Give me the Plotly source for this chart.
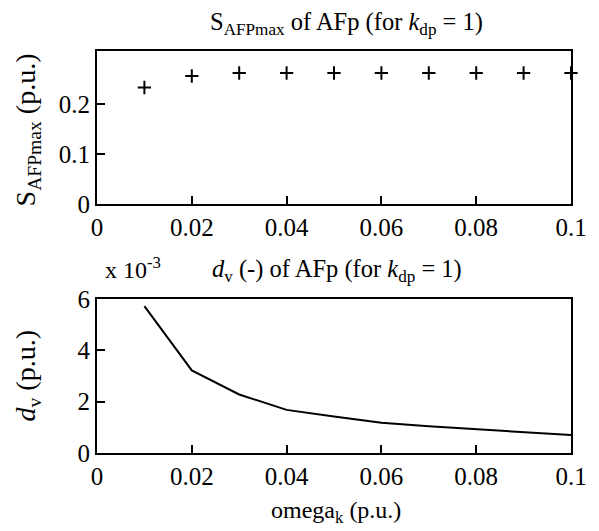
import plotly.graph_objects as go

omega_k = [0.01, 0.02, 0.03, 0.04, 0.05, 0.06, 0.07, 0.08, 0.09, 0.10]
s_afpmax = [0.233, 0.256, 0.262, 0.262, 0.262, 0.262, 0.262, 0.262, 0.262, 0.262]
d_v_e3 = [5.72, 3.22, 2.28, 1.68, 1.42, 1.18, 1.04, 0.92, 0.81, 0.70]  # in units of 1e-3

x_ticks = [0, 0.02, 0.04, 0.06, 0.08, 0.1]
x_ticktext = ["0", "0.02", "0.04", "0.06", "0.08", "0.1"]
top_yticks = [0, 0.1, 0.2]
bot_yticks = [0, 2, 4, 6]

FONT = "Liberation Serif"
fs_tick = 25
fs_title = 24.5
fs_ylab = 28
fs_xlab = 24

W, H = 599, 531
ml, mr, mt, mb = 97, 25, 51, 78
plot_h = H - mt - mb
top_y0 = (453 - 204) / plot_h
bot_y1 = (453 - 299) / plot_h

fig = go.Figure()
fig.add_trace(go.Scatter(
    x=omega_k, y=s_afpmax, mode="markers", xaxis="x", yaxis="y",
    marker=dict(symbol="cross-thin", size=9.5, color="black",
                line=dict(color="black", width=2)),
    showlegend=False, cliponaxis=False))
fig.add_trace(go.Scatter(
    x=omega_k, y=d_v_e3, mode="lines", xaxis="x2", yaxis="y2",
    line=dict(color="black", width=2), showlegend=False))

axis_common = dict(
    showgrid=False, zeroline=False, showline=True, linecolor="black", linewidth=2,
    mirror=True, ticks="inside", ticklen=8, tickwidth=2, tickcolor="black",
    tickfont=dict(family=FONT, size=fs_tick, color="black"),
)

fig.update_layout(
    width=W, height=H,
    margin=dict(l=ml, r=mr, t=mt, b=mb),
    paper_bgcolor="white", plot_bgcolor="white",
    font=dict(family=FONT, size=fs_tick, color="black"),
    xaxis=dict(domain=[0, 1], anchor="y", range=[0, 0.1],
               tickvals=x_ticks, ticktext=x_ticktext, **axis_common),
    yaxis=dict(domain=[top_y0, 1], anchor="x", range=[0, 0.306],
               tickvals=top_yticks, ticktext=["0", "0.1", "0.2"], **axis_common),
    xaxis2=dict(domain=[0, 1], anchor="y2", range=[0, 0.1],
                tickvals=x_ticks, ticktext=x_ticktext, **axis_common),
    yaxis2=dict(domain=[0, bot_y1], anchor="x2", range=[0, 6],
                tickvals=bot_yticks, ticktext=[str(v) for v in bot_yticks], **axis_common),
)

ann = [
    dict(text="S<sub>AFPmax</sub> of AFp (for <i>k</i><sub>dp</sub> = 1)",
         x=348, y=H - 24, xanchor="center", yanchor="middle", size=fs_title),
    dict(text="x 10<sup>-3</sup>", x=103, y=H - 268, xanchor="left", yanchor="middle",
         size=fs_xlab),
    dict(text="<i>d</i><sub>v</sub> (-) of AFp (for <i>k</i><sub>dp</sub> = 1)",
         x=339, y=H - 270, xanchor="center", yanchor="middle", size=fs_title),
    dict(text="omega<sub>k</sub> (p.u.)", x=338, y=H - 512, xanchor="center",
         yanchor="middle", size=fs_xlab),
    dict(text="S<sub>AFPmax</sub> (p.u.)", x=27, y=H - 130, xanchor="center",
         yanchor="middle", textangle=-90, size=fs_ylab),
    dict(text="<i>d</i><sub>v</sub> (p.u.)", x=27, y=H - 376, xanchor="center",
         yanchor="middle", textangle=-90, size=fs_ylab),
]
annotations = []
for a in ann:
    px, py, sz = a.pop("x"), a.pop("y"), a.pop("size")
    annotations.append(dict(
        x=(px - ml) / (W - ml - mr), y=(py - mb) / plot_h,
        xref="paper", yref="paper", showarrow=False,
        font=dict(family=FONT, size=sz, color="black"), **a))
fig.update_layout(annotations=annotations)

fig.write_html("out.html")
